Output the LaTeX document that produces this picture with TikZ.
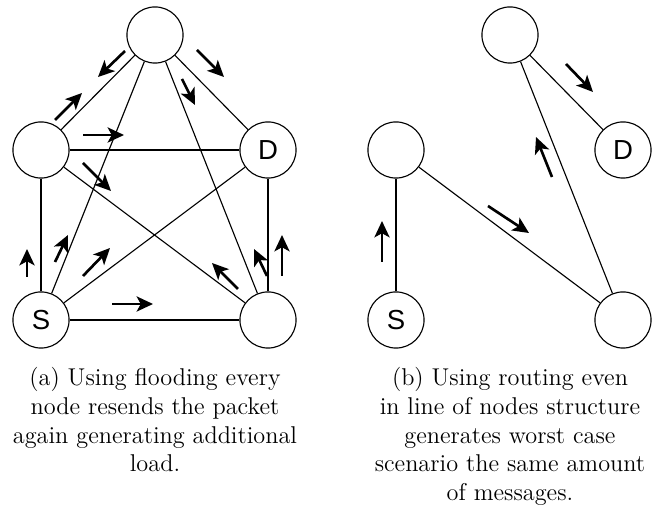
\documentclass[tikz,border=0pt]{standalone}
\usepackage{fontspec}
\newfontfamily\peerfont{Liberation Sans}
\usepackage{tikz}
\usetikzlibrary{arrows.meta, positioning}

\begin{document}
\begin{tikzpicture}[x=0.49pt, y=-0.49pt,
	peer/.style={circle, draw, line width=0.55pt, minimum size=27.5pt, inner sep=0pt, font=\peerfont\fontsize{13.5}{14}\selectfont},
	link/.style={line width=0.55pt},
	pkt/.style={line width=1.3pt, -{Stealth[length=8pt, width=7.4pt, inset=2pt]}},
	caption/.style={align=center, anchor=north, inner sep=0pt, font=\fontsize{11.9}{14.1}\selectfont}]
		
		\useasboundingbox (0,0) rectangle (654,508);
		
		%//flooding
		\node [peer] (ft) at (155,35) {};
		\node [peer] (fl) at (41,150) {};
		\node [peer] (fd) at (268,150) {D};
		\node [peer] (fs) at (41,320) {S};
		\node [peer] (fr) at (268,320) {};
		
		\foreach \a/\b in {ft/fl, ft/fd, ft/fs, ft/fr, fl/fd, fl/fs, fl/fr, fd/fs, fd/fr, fs/fr}
		\draw [link] (\a) -- (\b);
		
		\foreach \x/\y/\u/\v in {125/51/98/77, 197/50/224/77, 182/79/195/105, 55/120/82/93, 83/135/124/135, 83/163/111/191, 27/277/27/249, 55/262/68/235, 83/276/110/248, 112/304/153/304, 238/289/212/263, 267/276/254/249, 282/276/282/235}
		\draw [pkt] (\x,\y) -- (\u,\v);
		
		\node [caption] (fcap) at (155,367) {(a) Using flooding every\\node resends the packet\\again generating additional\\load.};
		
		%//routing
		\node [peer] (rt) at (510,35) {};
		\node [peer] (rl) at (396,150) {};
		\node [peer] (rd) at (623,150) {D};
		\node [peer] (rs) at (396,320) {S};
		\node [peer] (rr) at (623,320) {};
		
		\foreach \a/\b in {rs/rl, rl/rr, rr/rt, rt/rd}
		\draw [link] (\a) -- (\b);
		
		\foreach \x/\y/\u/\v in {566/64/593/92, 552/177/536/137, 488/206/529/233, 382/262/382/221}
		\draw [pkt] (\x,\y) -- (\u,\v);
		
		\node [caption] (rcap) at (510,367) {(b) Using routing even\\in line of nodes structure\\generates worst case\\scenario the same amount\\of messages.};
		
	\end{tikzpicture}
\end{document}
